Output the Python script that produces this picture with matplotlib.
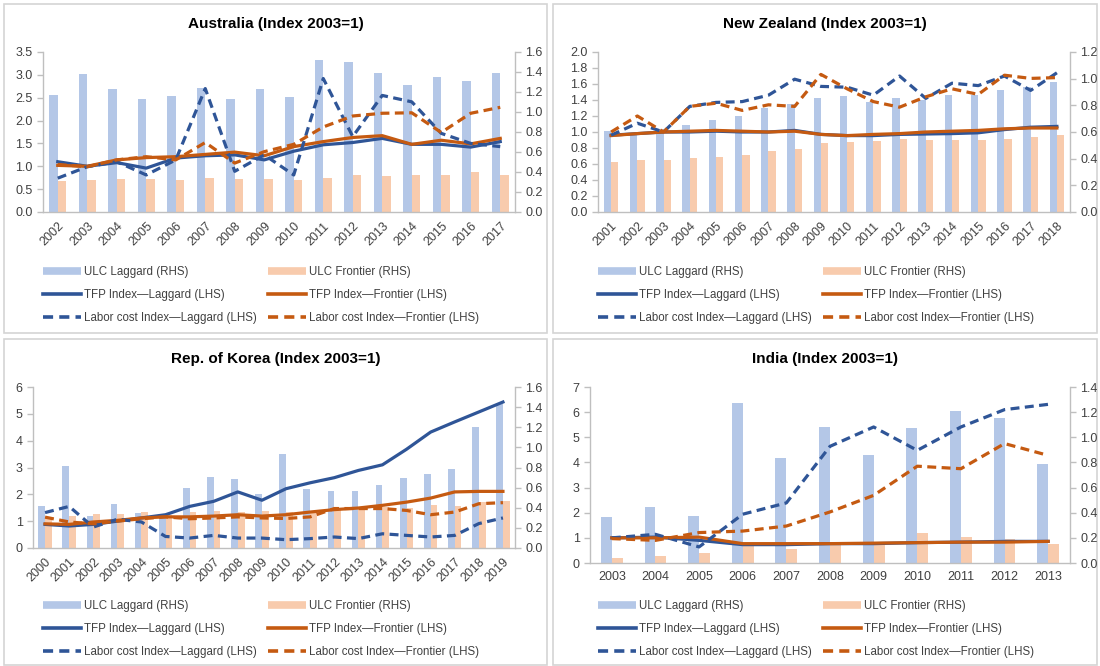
import matplotlib

matplotlib.use('Agg')

import matplotlib.pyplot as plt
from matplotlib.lines import Line2D
from matplotlib.patches import Rectangle
import numpy as np

plt.rcParams['font.family'] = ['Liberation Sans', 'DejaVu Sans']

W, H = 1100, 666

LAG_BAR = '#b4c7e7'
FRONT_BAR = '#f8cbad'
LAG_LINE = '#2f5597'
FRONT_LINE = '#c55a11'
AXIS_GRAY = '#bfbfbf'
TEXT_GRAY = '#404040'

# Australia
au_years = [str(y) for y in range(2002, 2018)]
au_ulc_lag = [1.166, 1.376, 1.230, 1.125, 1.161, 1.243, 1.129, 1.230, 1.152, 1.518,
              1.495, 1.390, 1.266, 1.349, 1.312, 1.385]
au_ulc_front = [0.311, 0.320, 0.334, 0.334, 0.320, 0.338, 0.334, 0.334, 0.320, 0.338,
                0.370, 0.357, 0.370, 0.366, 0.402, 0.370]
au_tfp_lag = [1.10, 1.00, 1.08, 0.96, 1.18, 1.23, 1.25, 1.14, 1.33, 1.47, 1.52, 1.61,
              1.48, 1.48, 1.42, 1.54]
au_tfp_front = [1.02, 1.00, 1.14, 1.19, 1.21, 1.26, 1.31, 1.23, 1.43, 1.54, 1.63, 1.67,
                1.48, 1.57, 1.49, 1.61]
au_lab_lag = [0.74, 0.99, 1.10, 0.81, 1.14, 2.70, 0.89, 1.25, 0.81, 2.92, 1.65, 2.55,
              2.41, 1.72, 1.50, 1.43]
au_lab_front = [1.04, 0.99, 1.14, 1.21, 1.14, 1.52, 1.07, 1.32, 1.48, 1.86, 2.10, 2.16,
                2.17, 1.74, 2.16, 2.29]

# New Zealand
nz_years = [str(y) for y in range(2001, 2019)]
nz_ulc_lag = [0.606, 0.588, 0.624, 0.654, 0.690, 0.717, 0.780, 0.810, 0.858, 0.870,
              0.822, 0.858, 0.840, 0.876, 0.876, 0.918, 0.936, 0.972]
nz_ulc_front = [0.378, 0.388, 0.388, 0.403, 0.416, 0.431, 0.456, 0.474, 0.520, 0.528,
                0.534, 0.546, 0.540, 0.538, 0.538, 0.548, 0.564, 0.578]
nz_tfp_lag = [0.96, 0.98, 1.00, 1.00, 1.01, 1.00, 1.00, 1.02, 0.97, 0.955, 0.955, 0.97,
              0.975, 0.98, 0.99, 1.03, 1.06, 1.07]
nz_tfp_front = [0.955, 0.98, 1.00, 1.01, 1.02, 1.01, 1.00, 1.01, 0.97, 0.955, 0.97, 0.98,
                1.00, 1.01, 1.02, 1.04, 1.05, 1.05]
nz_lab_lag = [0.96, 1.11, 1.00, 1.32, 1.37, 1.38, 1.46, 1.66, 1.57, 1.56, 1.46, 1.70,
              1.42, 1.61, 1.58, 1.70, 1.52, 1.74]
nz_lab_front = [1.00, 1.20, 1.00, 1.32, 1.36, 1.27, 1.34, 1.32, 1.72, 1.54, 1.38, 1.31,
                1.44, 1.54, 1.47, 1.71, 1.67, 1.68]

# Rep. of Korea
kr_years = [str(y) for y in range(2000, 2020)]
kr_ulc_lag = [0.419, 0.811, 0.315, 0.440, 0.352, 0.325, 0.600, 0.707, 0.685, 0.539,
              0.931, 0.589, 0.565, 0.563, 0.624, 0.696, 0.733, 0.781, 1.203, 1.435]
kr_ulc_front = [0.307, 0.315, 0.341, 0.341, 0.357, 0.325, 0.357, 0.365, 0.357, 0.365,
                0.360, 0.365, 0.373, 0.392, 0.408, 0.400, 0.424, 0.419, 0.453, 0.464]
kr_tfp_lag = [0.88, 0.82, 0.88, 1.00, 1.12, 1.24, 1.55, 1.74, 2.09, 1.78, 2.21, 2.43,
              2.62, 2.89, 3.10, 3.68, 4.32, 4.70, 5.07, 5.44]
kr_tfp_front = [0.90, 0.88, 0.97, 1.03, 1.12, 1.16, 1.16, 1.19, 1.24, 1.19, 1.24, 1.34,
                1.43, 1.49, 1.59, 1.71, 1.86, 2.09, 2.11, 2.11]
kr_lab_lag = [1.32, 1.55, 0.78, 1.07, 0.97, 0.43, 0.37, 0.47, 0.37, 0.37, 0.31, 0.35,
              0.41, 0.35, 0.53, 0.47, 0.41, 0.47, 0.91, 1.12]
kr_lab_front = [1.15, 0.97, 0.90, 1.00, 1.09, 1.16, 1.09, 1.12, 1.16, 1.12, 1.10, 1.16,
                1.47, 1.47, 1.47, 1.40, 1.24, 1.34, 1.65, 1.69]

# India
in_years = [str(y) for y in range(2003, 2014)]
in_ulc_lag = [0.366, 0.446, 0.376, 1.276, 0.836, 1.082, 0.860, 1.072, 1.206, 1.152, 0.786]
in_ulc_front = [0.042, 0.056, 0.082, 0.154, 0.108, 0.160, 0.160, 0.238, 0.206, 0.194, 0.154]
in_tfp_lag = [1.00, 1.03, 0.90, 0.73, 0.73, 0.77, 0.77, 0.81, 0.83, 0.86, 0.86]
in_tfp_front = [1.00, 1.00, 1.03, 0.77, 0.77, 0.77, 0.79, 0.81, 0.83, 0.83, 0.86]
in_lab_lag = [1.00, 1.14, 0.64, 1.94, 2.39, 4.64, 5.41, 4.48, 5.41, 6.10, 6.31]
in_lab_front = [0.97, 0.90, 1.21, 1.27, 1.47, 2.03, 2.69, 3.85, 3.75, 4.75, 4.28]

LEGEND_LABELS = [
    'ULC Laggard (RHS)',
    'TFP Index\u2014Laggard (LHS)',
    'Labor cost Index\u2014Laggard (LHS)',
    'ULC Frontier (RHS)',
    'TFP Index\u2014Frontier (LHS)',
    'Labor cost Index\u2014Frontier (LHS)',
]

DASH = (0, (2.8, 1.7))


def px_rect(left, top, right, bottom):
    return [left / W, 1 - bottom / H, (right - left) / W, (bottom - top) / H]


def style_axis(ax, side):
    for name, spine in ax.spines.items():
        spine.set_color(AXIS_GRAY)
        spine.set_linewidth(1.0)
        spine.set_visible(name in ('bottom', side))
    ax.tick_params(axis='y', which='both', colors=AXIS_GRAY, labelcolor=TEXT_GRAY,
                   labelsize=9, length=4, width=1.0, direction='out')


def draw_panel(fig, box, rect, title, years, ulc_lag, ulc_front, tfp_lag, tfp_front,
               lab_lag, lab_front, left_lim, left_step, right_lim, right_step,
               left_fmt, rotate, bar_w, legend_xy):
    # panel frame sits behind the axes
    fig.patches.append(Rectangle((box[0] / W, 1 - box[3] / H),
                                 (box[2] - box[0]) / W, (box[3] - box[1]) / H,
                                 transform=fig.transFigure, facecolor='none',
                                 edgecolor='#d4d4d4', linewidth=1.2, zorder=-1))
    fig.text((box[0] + box[2]) / 2 / W, 1 - (box[1] + 20) / H, title,
             ha='center', va='center', fontsize=11, fontweight='bold', color='black')

    ax = fig.add_axes(rect)
    axr = ax.twinx()
    x = np.arange(len(years))

    axr.bar(x - bar_w, ulc_lag, width=bar_w, align='edge', color=LAG_BAR)
    axr.bar(x, ulc_front, width=bar_w, align='edge', color=FRONT_BAR)

    ax.plot(x, tfp_lag, color=LAG_LINE, linewidth=2.3)
    ax.plot(x, tfp_front, color=FRONT_LINE, linewidth=2.3)
    ax.plot(x, lab_lag, color=LAG_LINE, linewidth=2.3, linestyle=DASH)
    ax.plot(x, lab_front, color=FRONT_LINE, linewidth=2.3, linestyle=DASH)

    ax.set_zorder(axr.get_zorder() + 1)
    ax.patch.set_visible(False)

    ax.set_xlim(-0.5, len(years) - 0.5)
    ax.set_ylim(0, left_lim)
    axr.set_ylim(0, right_lim)
    ax.set_yticks(np.arange(0, left_lim + 1e-9, left_step))
    axr.set_yticks(np.arange(0, right_lim + 1e-9, right_step))
    ax.set_yticklabels([left_fmt.format(v) for v in ax.get_yticks()])
    axr.set_yticklabels(['{:.1f}'.format(v) for v in axr.get_yticks()])

    style_axis(ax, 'left')
    style_axis(axr, 'right')
    axr.spines['bottom'].set_visible(False)

    ax.set_xticks(x)
    if rotate:
        ax.set_xticklabels(years, rotation=45, ha='right', rotation_mode='anchor',
                           fontsize=9, color=TEXT_GRAY)
    else:
        ax.set_xticklabels(years, fontsize=9, color=TEXT_GRAY)
    ax.tick_params(axis='x', length=0, pad=6)

    handles = [
        Line2D([], [], color=LAG_BAR, linewidth=5.5, solid_capstyle='butt'),
        Line2D([], [], color=LAG_LINE, linewidth=2.6),
        Line2D([], [], color=LAG_LINE, linewidth=2.6, linestyle=DASH),
        Line2D([], [], color=FRONT_BAR, linewidth=5.5, solid_capstyle='butt'),
        Line2D([], [], color=FRONT_LINE, linewidth=2.6),
        Line2D([], [], color=FRONT_LINE, linewidth=2.6, linestyle=DASH),
    ]
    fig.legend(handles, LEGEND_LABELS, loc='upper left', ncol=2,
               bbox_to_anchor=(legend_xy[0] / W, 1 - legend_xy[1] / H),
               frameon=False, fontsize=8.3, handlelength=3.3, handletextpad=0.25,
               columnspacing=1.0, labelspacing=0.94, borderaxespad=0, borderpad=0,
               labelcolor=TEXT_GRAY)
    return ax


def main():
    fig = plt.figure(figsize=(W / 100, H / 100), dpi=100)

    draw_panel(fig, (4, 4, 547, 333), px_rect(43, 52, 515, 212),
               'Australia (Index 2003=1)', au_years, au_ulc_lag, au_ulc_front,
               au_tfp_lag, au_tfp_front, au_lab_lag, au_lab_front,
               3.5, 0.5, 1.6, 0.2, '{:.1f}', True, 0.28, (43, 266))

    draw_panel(fig, (553, 4, 1097, 333), px_rect(598, 52, 1070, 212),
               'New Zealand (Index 2003=1)', nz_years, nz_ulc_lag, nz_ulc_front,
               nz_tfp_lag, nz_tfp_front, nz_lab_lag, nz_lab_front,
               2.0, 0.2, 1.2, 0.2, '{:.1f}', True, 0.28, (598, 266))

    draw_panel(fig, (4, 339, 547, 665), px_rect(33, 387, 515, 548),
               'Rep. of Korea (Index 2003=1)', kr_years, kr_ulc_lag, kr_ulc_front,
               kr_tfp_lag, kr_tfp_front, kr_lab_lag, kr_lab_front,
               6, 1, 1.6, 0.2, '{:.0f}', True, 0.28, (43, 600))

    draw_panel(fig, (553, 339, 1097, 665), px_rect(590, 387, 1070, 563),
               'India (Index 2003=1)', in_years, in_ulc_lag, in_ulc_front,
               in_tfp_lag, in_tfp_front, in_lab_lag, in_lab_front,
               7, 1, 1.4, 0.2, '{:.0f}', False, 0.25, (598, 600))

    fig.savefig('out.png', dpi=100, facecolor='white')
    plt.close(fig)


if __name__ == '__main__':
    main()
